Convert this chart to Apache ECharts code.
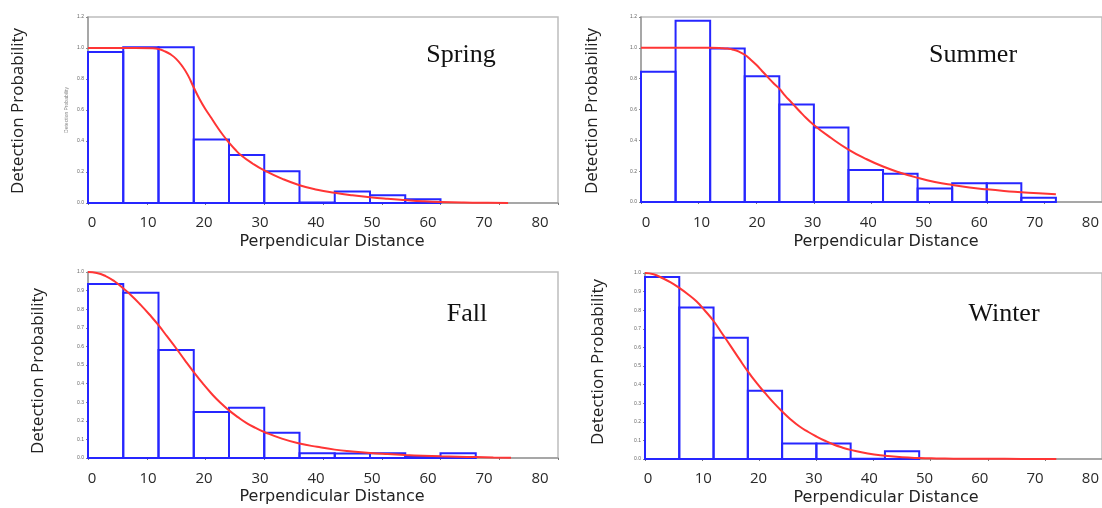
<!DOCTYPE html>
<html><head><meta charset="utf-8">
<script src="https://cdn.jsdelivr.net/npm/echarts@6/dist/echarts.min.js"></script>
<style>html,body{margin:0;padding:0;background:#fff}#c{width:1102px;height:508px}</style>
</head><body><div id="c"></div>
<script>
// ---- data ----
const binEdges = [0, 6, 12, 18, 24, 30, 36, 42, 48, 54, 60, 66, 72];
const springBins = [0.975, 1.005, 1.005, 0.41, 0.31, 0.205, 0.004, 0.075, 0.05, 0.025];
const summerBins = [0.845, 1.175, 0.995, 0.815, 0.632, 0.483, 0.208, 0.183, 0.088, 0.121, 0.121, 0.027];
const fallBins = [0.935, 0.889, 0.58, 0.247, 0.27, 0.136, 0.026, 0.024, 0.025, 0.007, 0.026];
const winterBins = [0.978, 0.815, 0.652, 0.367, 0.084, 0.084, 0.002, 0.041];

const springCurve = [[0,1],[4,1],[8,1],[11,0.998],[12,0.993],[13,0.98],[14,0.96],[15,0.93],[16,0.885],[17,0.825],[18,0.745],[19,0.67],[20,0.605],[21,0.548],[22,0.49],[23,0.437],[24,0.39],[25,0.347],[26,0.31],[28,0.255],[30,0.21],[33,0.157],[36,0.115],[39,0.086],[42,0.066],[45,0.05],[48,0.037],[51,0.027],[54,0.019],[57,0.012],[60,0.007],[64,0.003],[68,0.001],[71.5,0]];
const summerCurve = [[0,1],[6,1],[12,1],[14,0.998],[15,0.995],[16,0.988],[17,0.975],[18,0.955],[19,0.925],[20,0.89],[21,0.85],[22,0.81],[23,0.77],[24,0.735],[25,0.69],[26,0.65],[27,0.61],[28,0.57],[30,0.5],[33,0.415],[36,0.34],[39,0.28],[42,0.23],[45,0.19],[48,0.157],[51,0.13],[54,0.11],[57,0.094],[60,0.082],[63,0.072],[66,0.064],[69,0.056],[72,0.05]];
const fallCurve = [[0,1],[1.5,0.995],[3,0.978],[4.5,0.95],[6,0.912],[7.5,0.87],[9,0.822],[10.5,0.77],[12,0.714],[13.5,0.652],[15,0.59],[16.5,0.525],[18,0.462],[19.5,0.402],[21,0.347],[22.5,0.298],[24,0.256],[25.5,0.22],[27,0.188],[28.5,0.162],[30,0.14],[33,0.104],[36,0.078],[39,0.06],[42,0.045],[45,0.035],[48,0.027],[51,0.021],[54,0.016],[57,0.012],[60,0.009],[63,0.007],[66,0.005],[69,0.003],[72,0.002]];
const winterCurve = [[0,1],[1.5,0.993],[3,0.973],[4.5,0.95],[6,0.92],[7.5,0.886],[9,0.848],[10.5,0.797],[12,0.742],[13.5,0.675],[15,0.607],[16.5,0.538],[18,0.471],[19.5,0.41],[21,0.355],[22.5,0.303],[24,0.256],[25.5,0.213],[27,0.176],[28.5,0.147],[30,0.121],[31.5,0.098],[33,0.078],[34.5,0.062],[36,0.049],[39,0.029],[42,0.017],[45,0.009],[48,0.005],[51,0.003],[54,0.002],[60,0.001],[66,0.0005],[72,0.0002]];

const seasons = ['Spring', 'Summer', 'Fall', 'Winter'];
const xTickLabels = [0, 10, 20, 30, 40, 50, 60, 70, 80];
const xTitle = 'Perpendicular Distance';
const yTitle = 'Detection Probability';

// ---- layout ----
const panels = [
  {bins: springBins, curve: springCurve, grid: {left: 88, top: 17, width: 470, height: 186}, ymax: 1.2, yint: 0.2,
   lab: {left: 92, top: 214, width: 448}, season: [461, 55], xt: [332, 242], yt: [18, 111], smallName: true},
  {bins: summerBins, curve: summerCurve, grid: {left: 641, top: 17, width: 472, height: 185}, ymax: 1.2, yint: 0.2,
   lab: {left: 646, top: 214, width: 448}, season: [973, 55], xt: [886, 242], yt: [592, 111]},
  {bins: fallBins, curve: fallCurve, grid: {left: 88, top: 272, width: 470, height: 186}, ymax: 1.0, yint: 0.1,
   lab: {left: 92, top: 470, width: 448}, season: [467, 314], xt: [332, 497], yt: [38, 371]},
  {bins: winterBins, curve: winterCurve, grid: {left: 645, top: 273, width: 472, height: 186}, ymax: 1.0, yint: 0.1,
   lab: {left: 648, top: 470, width: 450}, season: [1004, 314], xt: [886, 498], yt: [598, 362]}
];

const FONT = '"Open Sans", "DejaVu Sans", sans-serif';
const grids = [], xAxes = [], yAxes = [], series = [], graphics = [];

panels.forEach((p, i) => {
  grids.push(Object.assign({show: true, borderColor: '#bdbdbd', borderWidth: 1.5, backgroundColor: '#fff'}, p.grid));
  xAxes.push({type: 'value', gridIndex: i, min: 0, max: 80, interval: 10,
    axisLine: {lineStyle: {color: '#9a9a9a', width: 1.5}},
    axisTick: {show: true, length: 2, lineStyle: {color: '#777', width: 1}},
    axisLabel: {show: false}, splitLine: {show: false}});
  yAxes.push({type: 'value', gridIndex: i, min: 0, max: p.ymax, interval: p.yint,
    axisLine: {show: true, lineStyle: {color: '#9a9a9a', width: 1.5}},
    axisTick: {show: true, length: 2, lineStyle: {color: '#888'}},
    axisLabel: {fontSize: 5, color: '#666', margin: 4, formatter: v => v.toFixed(1)},
    splitLine: {show: false},
    name: p.smallName ? yTitle : '', nameLocation: 'middle', nameGap: 19,
    nameTextStyle: {fontSize: 5, color: '#888'}});
  series.push({type: 'custom', xAxisIndex: i, yAxisIndex: i, encode: {x: [0, 1], y: 2}, z: 2,
    data: p.bins.map((v, k) => [binEdges[k], binEdges[k + 1], v]),
    renderItem: function (params, api) {
      const a = api.coord([api.value(0), api.value(2)]);
      const b = api.coord([api.value(1), 0]);
      return {type: 'rect', shape: {x: a[0], y: a[1], width: b[0] - a[0], height: b[1] - a[1]},
        style: {fill: 'none', stroke: '#2626ff', lineWidth: 2}};
    }});
  series.push({type: 'line', xAxisIndex: i, yAxisIndex: i, data: p.curve, z: 3,
    showSymbol: false, smooth: 0.5,
    lineStyle: {color: '#ff3535', width: 2}});
  graphics.push({type: 'text', x: p.season[0], y: p.season[1], z: 10,
    style: {text: seasons[i], font: '26px "Liberation Serif", "Times New Roman", serif', fill: '#111',
      textAlign: 'center', textVerticalAlign: 'middle', align: 'center', verticalAlign: 'middle'}});
  graphics.push({type: 'text', x: p.xt[0], y: p.xt[1], z: 10,
    style: {text: xTitle, font: '16px "DejaVu Sans", sans-serif', fill: '#222',
      textAlign: 'center', textVerticalAlign: 'middle', align: 'center', verticalAlign: 'middle'}});
  graphics.push({type: 'text', x: p.yt[0], y: p.yt[1], rotation: Math.PI / 2, z: 10,
    style: {text: yTitle, font: '17px ' + FONT, fill: '#222',
      textAlign: 'center', textVerticalAlign: 'middle', align: 'center', verticalAlign: 'middle'}});
});

// overlay label axes (the large distance labels)
panels.forEach((p, i) => {
  const gi = panels.length + i;
  grids.push({left: p.lab.left, top: p.lab.top, width: p.lab.width, height: 1});
  xAxes.push({type: 'value', gridIndex: gi, min: xTickLabels[0], max: xTickLabels[xTickLabels.length - 1], interval: 10,
    axisLine: {show: false}, axisTick: {show: false}, splitLine: {show: false},
    axisLabel: {margin: 0, fontSize: 15, lineHeight: 15, color: '#2a2a2a', fontFamily: FONT}});
  yAxes.push({type: 'value', gridIndex: gi, show: false});
});

const chart = echarts.init(document.getElementById('c'), null, {renderer: 'canvas'});
chart.setOption({animation: false, backgroundColor: '#fff', grid: grids, xAxis: xAxes, yAxis: yAxes, series: series, graphic: graphics});
</script></body></html>
